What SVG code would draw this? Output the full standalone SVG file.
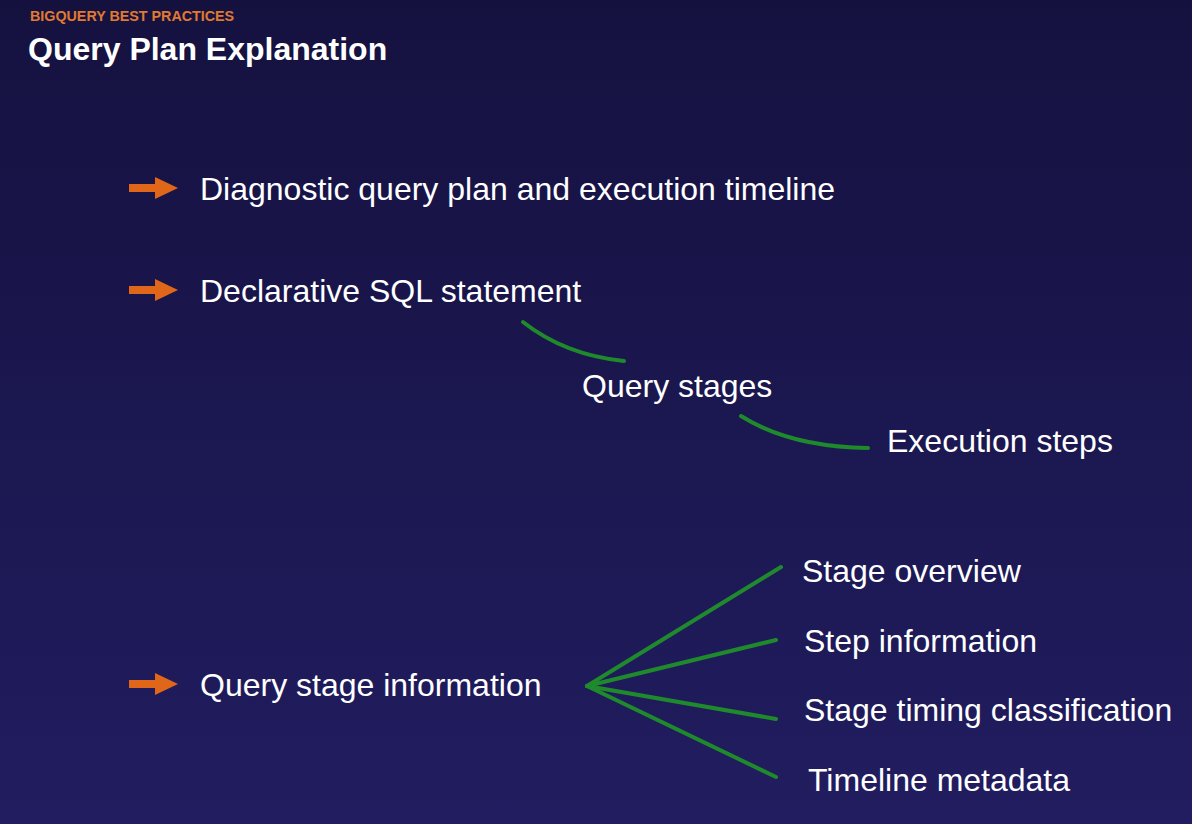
<svg xmlns="http://www.w3.org/2000/svg" width="1192" height="824" viewBox="0 0 1192 824">
<defs>
<linearGradient id="bg" x1="0" y1="0" x2="0" y2="1">
<stop offset="0" stop-color="#15113f"/>
<stop offset="1" stop-color="#211d60"/>
</linearGradient>
<path id="arrow" d="M0,-4 L26,-4 L26,-11 L49,0 L26,11 L26,4 L0,4 Z" fill="#e0661a"/>
</defs>
<style>
.t{font-family:"Liberation Sans",Arial,sans-serif;fill:#ffffff;font-size:32px}
.c{fill:none;stroke:#1f8a2c;stroke-width:4;stroke-linecap:round}
</style>
<rect width="1192" height="824" fill="url(#bg)"/>
<text x="30" y="21" font-family="Liberation Sans,Arial,sans-serif" font-weight="bold" font-size="14.3" fill="#e07a30">BIGQUERY BEST PRACTICES</text>
<text x="28" y="60" font-family="Liberation Sans,Arial,sans-serif" font-weight="bold" font-size="32" fill="#ffffff">Query Plan Explanation</text>
<g id="n1"><use href="#arrow" x="129" y="188"/><text class="t" x="200" y="200">Diagnostic query plan and execution timeline</text></g>
<g id="n2"><use href="#arrow" x="129" y="290"/><text class="t" x="200" y="302">Declarative SQL statement</text></g>
<g id="n3"><text class="t" x="582" y="397">Query stages</text></g>
<g id="n4"><text class="t" x="887" y="452">Execution steps</text></g>
<g id="n5"><use href="#arrow" x="129" y="684"/><text class="t" x="200" y="696">Query stage information</text></g>
<g id="n6"><text class="t" x="802" y="582">Stage overview</text></g>
<g id="n7"><text class="t" x="804" y="652">Step information</text></g>
<g id="n8"><text class="t" x="804" y="721">Stage timing classification</text></g>
<g id="n9"><text class="t" x="808" y="791">Timeline metadata</text></g>
<g id="connectors">
<path class="c" d="M523,322 Q565,355 624,361"/>
<path class="c" d="M741,416 Q790,447 868,448"/>
<path class="c" d="M587,686 L781,567"/>
<path class="c" d="M587,686 L776,640"/>
<path class="c" d="M587,686 L776,719"/>
<path class="c" d="M587,686 L776,777"/>
</g>
</svg>
